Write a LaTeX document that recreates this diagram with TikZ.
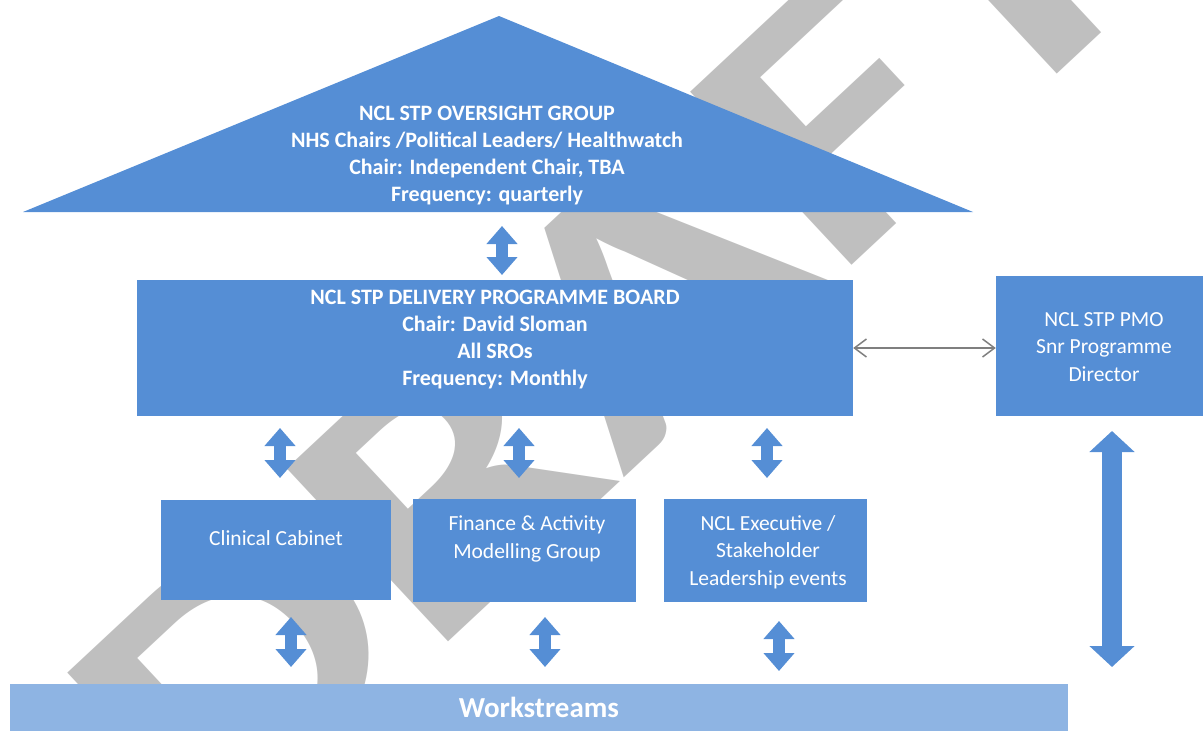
\documentclass[tikz,border=0pt]{standalone}
\usepackage{fontspec}
\setmainfont{Carlito}
\usetikzlibrary{arrows.meta}
\definecolor{boxblue}{HTML}{558ED5}
\definecolor{lightblue}{HTML}{8EB4E3}
\definecolor{watermark}{HTML}{BFBFBF}
\definecolor{linkgrey}{HTML}{7F7F7F}

\tikzset{
  panel/.style={fill=boxblue, inner sep=0pt},
  headtext/.style={text=white, align=center, font=\fontsize{22}{27}\selectfont\bfseries},
  bodytext/.style={text=white, align=center, font=\fontsize{21.5}{27.5}\selectfont},
  updown/.style={boxblue, line width=12pt, {Triangle[width=30pt,length=18pt]}-{Triangle[width=30pt,length=18pt]}},
}

\begin{document}
\begin{tikzpicture}[x=1pt, y=-1pt]
  \useasboundingbox (0,0) rectangle (1203,731);
  \begin{scope}[shift={(209.5,864.7)}, rotate=43, xscale=1.3]
    \node[transform shape, text=watermark, anchor=base west, inner sep=0pt,
          font=\fontsize{365}{365}\selectfont\bfseries] (draft) at (0,0) {DRAFT};
  \end{scope}

  \fill [boxblue] (23,212) -- (499,16) -- (973,212) -- cycle;
  \node[headtext] (oversight) at (487,156) {NCL STP OVERSIGHT GROUP\\NHS Chairs /Political Leaders/ Healthwatch\\Chair: Independent Chair, TBA\\Frequency: quarterly};

  \node[panel, minimum width=716pt, minimum height=136pt] (board) at (495,348) {};
  \node[headtext] (boardtext) at (495,340) {NCL STP DELIVERY PROGRAMME BOARD\\Chair: David Sloman\\All SROs\\Frequency: Monthly};

  \node[panel, minimum width=207pt, minimum height=140pt] (pmo) at (1099.5,346) {};
  \node[bodytext] (pmotext) at (1104,347) {NCL STP PMO\\Snr Programme\\Director};

  \node[panel, minimum width=230pt, minimum height=100pt] (cabinet) at (276,550) {};
  \node[bodytext] at (276,538) {Clinical Cabinet};
  \node[panel, minimum width=223pt, minimum height=103pt] (finance) at (524.5,550.5) {};
  \node[bodytext] at (527,539) {Finance \& Activity\\Modelling Group};
  \node[panel, minimum width=203pt, minimum height=103pt] (events) at (765.5,550.5) {};
  \node[bodytext] at (768,552) {NCL Executive /\\Stakeholder\\Leadership events};

  \node[fill=lightblue, minimum width=1058pt, minimum height=47pt, text=white,
        font=\fontsize{29}{30}\selectfont\bfseries] (workstreams) at (539,707.5) {Workstreams};

  \draw[linkgrey, line width=1.5pt, {Straight Barb[length=12pt,width=18pt]}-{Straight Barb[length=12pt,width=18pt]}]
    (board.east) -- (board.east -| pmo.west);

  \coordinate (t0) at (502,226);
  \coordinate (b0) at (502,275);
  \draw[updown] (t0) -- (b0);
  \foreach \x/\y in {280/428, 519/428, 767/428, 291/617, 545/617, 779/621}
    \draw[updown] (\x,\y) -- ++(0,50);
  \coordinate (pmotop) at (1112,431);
  \coordinate (pmobot) at (1112,667);
  \draw[boxblue, line width=20pt, {Triangle[width=44pt,length=21pt]}-{Triangle[width=44pt,length=21pt]}] (pmotop) -- (pmobot);
\end{tikzpicture}
\end{document}
